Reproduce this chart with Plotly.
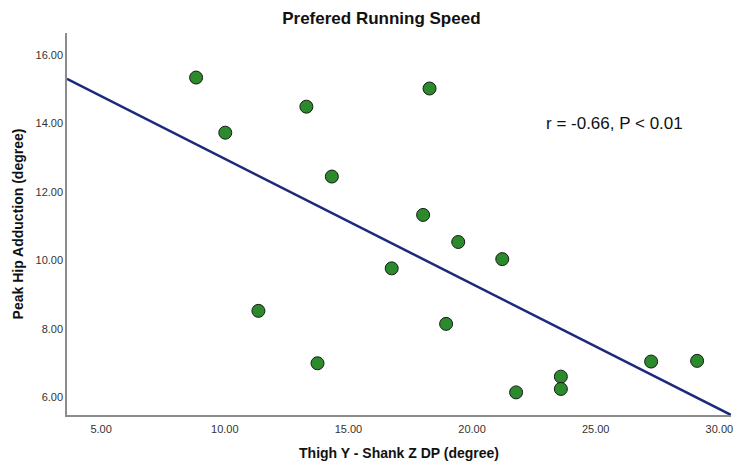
import plotly.graph_objects as go

thigh_shank = [8.84, 10.02, 13.30, 18.28, 14.33, 18.02, 19.44, 16.75, 11.36,
               13.75, 18.95, 21.22, 21.78, 23.59, 23.59, 27.24, 29.10]
hip_adduction = [15.34, 13.73, 14.49, 15.02, 12.45, 11.33, 10.54, 9.77, 8.53,
                 7.00, 8.15, 10.04, 6.15, 6.61, 6.25, 7.05, 7.07]
fit_x = [3.62, 30.47]
fit_y = [15.30, 5.49]
x_ticks = [5, 10, 15, 20, 25, 30]
y_ticks = [6, 8, 10, 12, 14, 16]

fig = go.Figure()
fig.add_trace(go.Scatter(x=fit_x, y=fit_y, mode="lines",
                         line=dict(color="#1c2a7c", width=2.5),
                         hoverinfo="skip", showlegend=False))
fig.add_trace(go.Scatter(x=thigh_shank, y=hip_adduction, mode="markers",
                         marker=dict(size=13, color="#2b8a2b",
                                     line=dict(color="#1a1a1a", width=1)),
                         showlegend=False))

fig.add_annotation(x=0.824, y=0.762, xref="paper", yref="paper",
                   xanchor="center", yanchor="middle",
                   text="r = -0.66, P < 0.01", showarrow=False,
                   font=dict(family="Liberation Sans, Arial", size=17, color="#111"))

fig.update_layout(
    width=735, height=457,
    margin=dict(l=59, r=12, t=25, b=50),
    paper_bgcolor="white", plot_bgcolor="white",
    title=dict(text="<b>Prefered Running Speed</b>", x=0.508, xanchor="center",
               y=0.978, yanchor="middle",
               font=dict(family="Liberation Sans, Arial", size=17, color="#111")),
    font=dict(family="Liberation Sans, Arial"),
    xaxis=dict(range=[3.62, 30.47], tickvals=x_ticks, automargin=False,
               ticktext=[f"{v:.2f}" for v in x_ticks], ticklabelstandoff=3,
               showgrid=False, zeroline=False, showline=True,
               linecolor="#8c8c8c", linewidth=1.5, ticks="",
               tickfont=dict(size=11, color="#333"),
               title=dict(text="<b>Thigh Y - Shank Z DP (degree)</b>", standoff=14,
                          font=dict(size=14, color="#111"))),
    yaxis=dict(range=[5.49, 16.64], tickvals=y_ticks, automargin=False,
               ticktext=[f"{v:.2f}" for v in y_ticks],
               showgrid=False, zeroline=False, showline=True,
               linecolor="#8c8c8c", linewidth=1.5, ticks="",
               tickfont=dict(size=11, color="#333"),
               title=dict(text="<b>Peak Hip Adduction (degree)</b>", standoff=9,
                          font=dict(size=14, color="#111"))),
)

fig.write_html("out.html")
